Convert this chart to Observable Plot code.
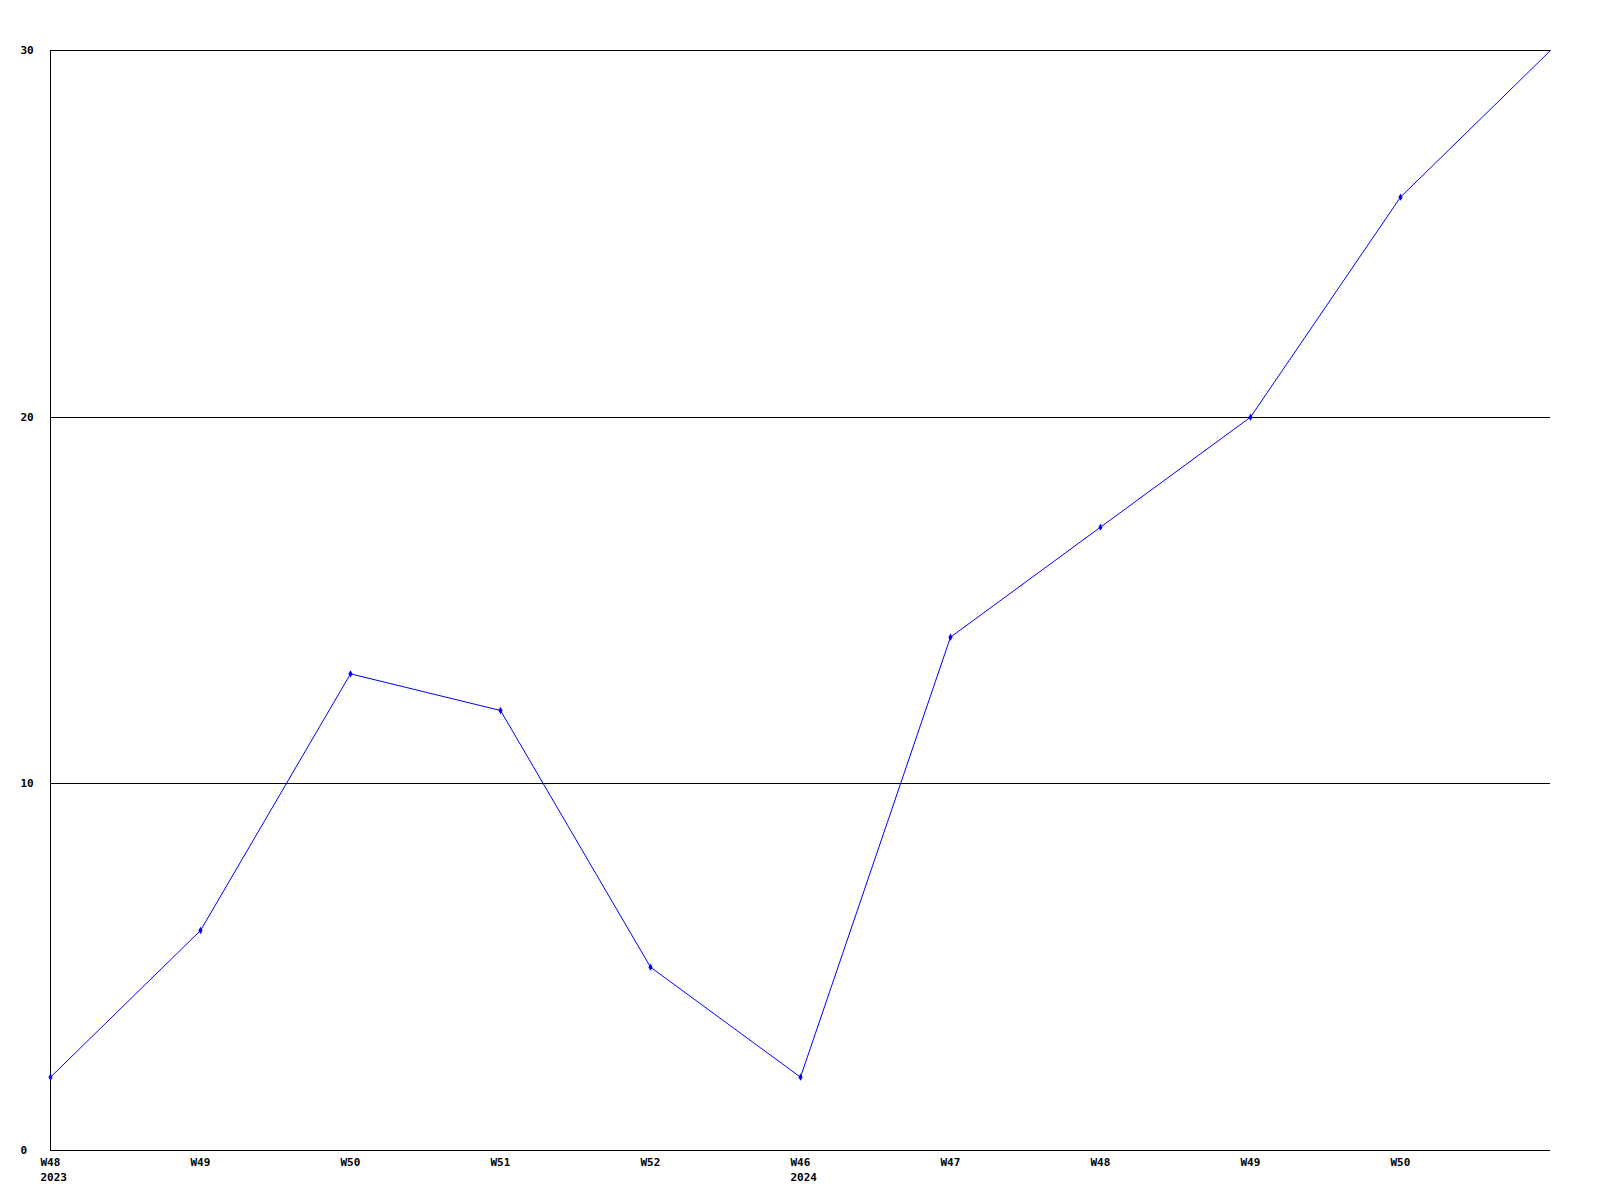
<!DOCTYPE html>
<html>
<head>
<meta charset="utf-8">
<script src="https://cdn.jsdelivr.net/npm/d3@7"></script>
<script src="https://cdn.jsdelivr.net/npm/@observablehq/plot@0.6"></script>
<style>
  html, body { margin: 0; padding: 0; background: #fff; }
  #chart svg { display: block; }
</style>
</head>
<body>
<div id="chart"></div>
<script>
const weeks = ["2023-W48","2023-W49","2023-W50","2023-W51","2023-W52","2024-W46","2024-W47","2024-W48","2024-W49","2024-W50","2024-W51"];
const values = [2, 6, 13, 12, 5, 2, 14, 17, 20, 26, 30];
const labeledWeeks = ["2023-W48","2023-W49","2023-W50","2023-W51","2023-W52","2024-W46","2024-W47","2024-W48","2024-W49","2024-W50"];
const yearStarts = ["2023-W48","2024-W46"];
const yTicks = [0, 10, 20, 30];
const gridValues = [10, 20, 30];

const data = weeks.map((w, i) => ({week: w, value: values[i]}));

function fmt(w) {
  const [yr, wk] = w.split("-");
  return yearStarts.includes(w) ? wk + "\n" + yr : wk;
}

const chart = Plot.plot({
  width: 1600,
  height: 1200,
  marginTop: 50,
  marginLeft: 50,
  marginRight: 50,
  marginBottom: 50,
  style: {background: "#fff", fontFamily: "'DejaVu Sans Mono', monospace", fontSize: "11px", fontWeight: "bold", color: "#000"},
  x: {type: "point", domain: weeks, padding: 0},
  y: {domain: [0, 30]},
  marks: [
    Plot.ruleY(gridValues, {stroke: "#000", strokeWidth: 1, shapeRendering: "crispEdges"}),
    Plot.ruleY([0], {stroke: "#000", strokeWidth: 1, shapeRendering: "crispEdges"}),
    Plot.ruleX([weeks[0]], {stroke: "#000", strokeWidth: 1, shapeRendering: "crispEdges"}),
    Plot.axisY({ticks: yTicks, tickSize: 0, tickPadding: 30, textAnchor: "start", label: null, fill: "#000"}),
    Plot.axisX({ticks: labeledWeeks, tickSize: 0, tickPadding: 5, textAnchor: "start", dx: -10, lineHeight: 1.35, tickFormat: fmt, label: null, fill: "#000"}),
    Plot.line(data, {x: "week", y: "value", stroke: "#0000ff", strokeWidth: 1}),
    Plot.dot(data.slice(0, -1), {x: "week", y: "value", symbol: "diamond", r: 2.2, fill: "#0000ff", stroke: "none"})
  ]
});
document.getElementById("chart").appendChild(chart);
</script>
</body>
</html>
